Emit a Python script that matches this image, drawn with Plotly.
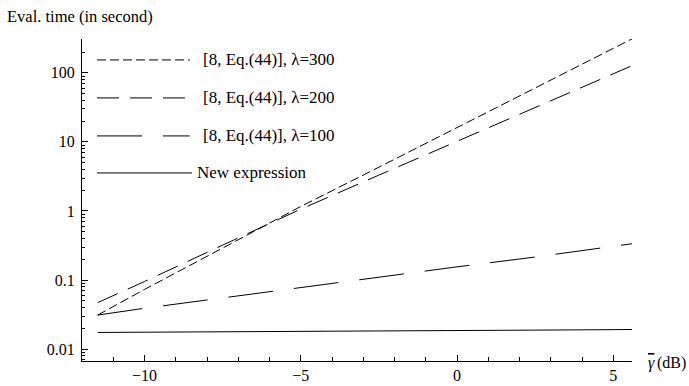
import plotly.graph_objects as go

# ---- data ----
snr_db = [-11.5, -10, -7.5, -5, -2.5, 0, 2.5, 5, 5.6]
new_expr = [0.0174, 0.0175, 0.0177, 0.0179, 0.0182, 0.0185, 0.0188, 0.0191, 0.0192]
lam100 = [0.031, 0.039, 0.055, 0.078, 0.11, 0.155, 0.215, 0.31, 0.335]
lam200 = [0.047, 0.095, 0.32, 1.06, 3.3, 10.2, 31.4, 97, 127]
lam300 = [0.031, 0.073, 0.29, 1.16, 4.3, 16.1, 60, 225, 310]

series_names = ["[8, Eq.(44)], λ=300", "[8, Eq.(44)], λ=200",
                "[8, Eq.(44)], λ=100", "New expression"]
x_ticks = [-10, -5, 0, 5]
x_tick_labels = ["\u221210", "\u22125", "0", "5"]
y_ticks = [0.01, 0.1, 1, 10, 100]
y_tick_labels = ["0.01", "0.1", "1", "10", "100"]

FONT = "Liberation Serif"
dashes = ["9px,4px", "22px,11px", "45px,21px", "solid"]
series_vals = [lam300, lam200, lam100, new_expr]

fig = go.Figure()
for name, vals, d in zip(series_names, series_vals, dashes):
    fig.add_trace(go.Scatter(x=snr_db, y=vals, mode="lines", name=name,
                             line=dict(color="black", width=1, dash=d),
                             showlegend=False))

# minor ticks for log axis
y_minor = []
for e in range(-3, 3):
    for m in range(2, 10):
        v = m * 10 ** e
        if 0.0067 <= v <= 310:
            y_minor.append(v)

# custom legend (long sample lines like the reference)
leg_y = [0.935, 0.817, 0.699, 0.584]
for i, (name, d) in enumerate(zip(series_names, dashes)):
    x1 = 0.2 if i == 3 else 0.196
    fig.add_shape(type="line", xref="paper", yref="paper",
                  x0=0.0273, x1=x1, y0=leg_y[i], y1=leg_y[i],
                  line=dict(color="black", width=1, dash=d))
    fig.add_annotation(xref="paper", yref="paper", x=(0.205 if i == 3 else 0.216),
                       y=leg_y[i], text=name, showarrow=False,
                       xanchor="left", yanchor="middle",
                       font=dict(family=FONT, size=17, color="black"))

# x-axis label: gamma with overline, then (dB)
fig.add_annotation(xref="paper", yref="paper", x=(646 - 82) / 550, y=-0.006,
                   text="<i>\u03b3</i>", showarrow=False,
                   xanchor="left", yanchor="middle",
                   font=dict(family=FONT, size=16, color="black", lineposition="over"))
fig.add_annotation(xref="paper", yref="paper", x=(655 - 82) / 550, y=-0.006,
                   text="(dB)", showarrow=False,
                   xanchor="left", yanchor="middle",
                   font=dict(family=FONT, size=16, color="black"))

fig.add_annotation(xref="paper", yref="paper", x=(5 - 82) / 550, y=(361 - 17) / 322,
                   text="Eval. time (in second)", showarrow=False,
                   xanchor="left", yanchor="middle",
                   font=dict(family=FONT, size=16.5, color="black"))

fig.update_layout(
    width=689, height=386,
    margin=dict(l=82, r=57, t=39, b=25, autoexpand=False),
    paper_bgcolor="white", plot_bgcolor="white",
    font=dict(family=FONT, size=17, color="black"),
    xaxis=dict(range=[-12, 5.6], showline=True, linecolor="black", linewidth=1,
               showgrid=False, zeroline=False, ticks="inside", ticklen=6,
               tickcolor="black", tickwidth=1, automargin=False,
               tickmode="array", tickvals=x_ticks, ticktext=x_tick_labels,
               ticklabelstandoff=0,
               minor=dict(ticks="inside", ticklen=4, dtick=1, tick0=0,
                          tickcolor="black", showgrid=False),
               tickfont=dict(family=FONT, size=16, color="black")),
    yaxis=dict(type="log", range=[-2.173, 2.49], showline=True, linecolor="black",
               linewidth=1, showgrid=False, zeroline=False, ticks="inside",
               ticklen=6, tickcolor="black", tickwidth=1, automargin=False,
               tickmode="array", tickvals=y_ticks, ticktext=y_tick_labels,
               ticklabelstandoff=3,
               minor=dict(ticks="inside", ticklen=3, tickmode="array",
                          tickvals=y_minor, tickcolor="black", showgrid=False),
               tickfont=dict(family=FONT, size=16, color="black")),
)

fig.write_html("out.html", config={"displayModeBar": False},
               post_script="document.body.style.margin='0';document.body.style.padding='0';")
